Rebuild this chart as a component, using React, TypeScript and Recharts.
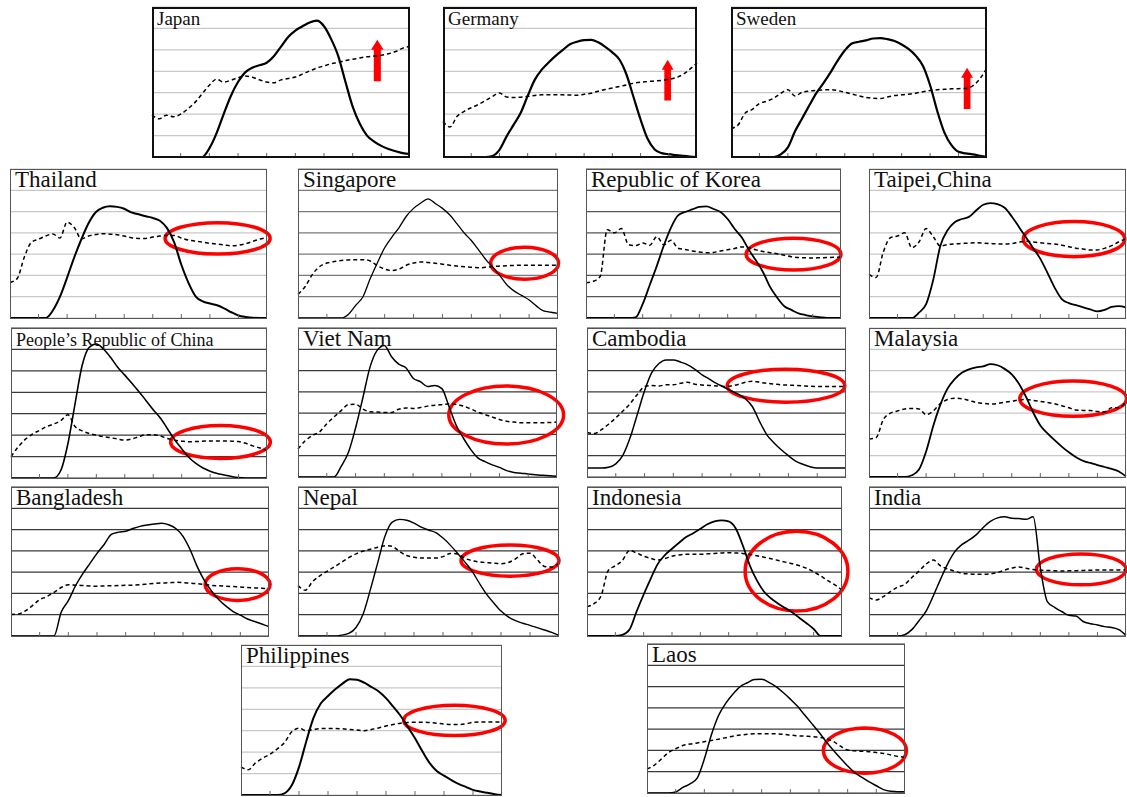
import React from 'react';
import { LineChart, Line, XAxis, YAxis, CartesianGrid, ReferenceArea } from 'recharts';

// hour index along the x axis (nine intervals, sampled every quarter)
const HOURS = [
  0, 0.25, 0.5, 0.75, 1, 1.25, 1.5, 1.75, 2, 2.25, 2.5, 2.75, 3, 3.25, 3.5, 3.75, 4, 4.25, 4.5,
  4.75, 5, 5.25, 5.5, 5.75, 6, 6.25, 6.5, 6.75, 7, 7.25, 7.5, 7.75, 8, 8.25, 8.5, 8.75, 9,
];
const X_TICKS = [1, 2, 3, 4, 5, 6, 7, 8];
const GRID_LEVELS = [1, 2, 3, 4, 5, 6];

const JAPAN_SOLID = [0, 0, 0, 0, 0, 0, 0, 0, 0.4, 1.1, 2.0, 2.85, 3.5, 3.95, 4.17, 4.28, 4.4, 4.7, 5.15, 5.6, 5.9, 6.1, 6.28, 6.36, 6.1, 5.5, 4.7, 3.5, 2.35, 1.55, 1.0, 0.72, 0.52, 0.37, 0.27, 0.18, 0.14];
const JAPAN_DASHED = [1.97, 1.78, 1.95, 1.88, 2.0, 2.25, 2.55, 2.95, 3.35, 3.63, 3.5, 3.58, 3.7, 3.78, 3.72, 3.6, 3.5, 3.46, 3.6, 3.66, 3.73, 3.87, 4.02, 4.15, 4.25, 4.35, 4.41, 4.5, 4.56, 4.62, 4.68, 4.71, 4.75, 4.82, 4.92, 5.08, 5.16];

const GERMANY_SOLID = [0, 0, 0, 0, 0, 0, 0, 0.05, 0.33, 0.95, 1.5, 2.05, 2.85, 3.6, 4.08, 4.42, 4.73, 5.0, 5.26, 5.38, 5.45, 5.47, 5.35, 5.14, 4.88, 4.55, 3.85, 2.8, 1.75, 0.85, 0.35, 0.18, 0.13, 0.09, 0.05, 0.02, 0];
const GERMANY_DASHED = [1.66, 1.4, 1.9, 2.13, 2.3, 2.45, 2.63, 2.82, 2.99, 2.8, 2.78, 2.79, 2.83, 2.87, 2.9, 2.91, 2.91, 2.9, 2.89, 2.88, 2.93, 2.98, 3.07, 3.15, 3.22, 3.29, 3.36, 3.44, 3.49, 3.52, 3.55, 3.57, 3.62, 3.7, 3.85, 4.1, 4.39];

const SWEDEN_SOLID = [0, 0, 0, 0, 0, 0, 0, 0.12, 0.45, 1.2, 1.8, 2.4, 2.98, 3.45, 3.95, 4.5, 4.97, 5.3, 5.38, 5.44, 5.53, 5.55, 5.5, 5.41, 5.25, 5.03, 4.72, 4.25, 3.35, 2.15, 1.15, 0.55, 0.24, 0.17, 0.12, 0.06, 0];
const SWEDEN_DASHED = [1.33, 1.5, 2.05, 2.22, 2.5, 2.6, 2.74, 2.97, 3.14, 2.85, 3.02, 3.08, 3.11, 3.13, 3.14, 3.1, 3.02, 2.94, 2.85, 2.78, 2.74, 2.73, 2.8, 2.87, 2.9, 2.93, 2.98, 3.05, 3.1, 3.14, 3.16, 3.18, 3.19, 3.2, 3.32, 3.65, 4.16];

const THAILAND_SOLID = [0, 0, 0, 0, 0, 0, 0.35, 1.0, 1.9, 2.85, 3.7, 4.45, 4.97, 5.18, 5.25, 5.22, 5.13, 4.96, 4.87, 4.78, 4.7, 4.57, 4.22, 3.55, 2.5, 1.65, 1.02, 0.78, 0.68, 0.6, 0.45, 0.27, 0.12, 0.05, 0.01, 0, 0];
const THAILAND_DASHED = [1.67, 1.85, 2.85, 3.56, 3.7, 3.85, 3.95, 3.76, 4.5, 4.25, 3.72, 3.85, 3.92, 3.96, 3.94, 3.91, 3.85, 3.77, 3.74, 3.74, 3.8, 3.85, 3.88, 3.88, 3.76, 3.66, 3.61, 3.56, 3.51, 3.47, 3.43, 3.39, 3.42, 3.49, 3.6, 3.71, 3.78];

const SINGAPORE_SOLID = [0, 0, 0, 0, 0, 0, 0, 0.18, 0.6, 1.0, 1.85, 2.6, 3.3, 3.8, 4.25, 4.78, 5.15, 5.4, 5.6, 5.38, 5.15, 4.85, 4.43, 4.0, 3.64, 3.2, 2.75, 2.38, 1.97, 1.53, 1.25, 1.05, 0.85, 0.57, 0.33, 0.27, 0.22];
const SINGAPORE_DASHED = [1.12, 1.48, 2.05, 2.42, 2.58, 2.65, 2.7, 2.73, 2.74, 2.74, 2.68, 2.45, 2.3, 2.23, 2.3, 2.48, 2.58, 2.63, 2.61, 2.57, 2.53, 2.48, 2.44, 2.41, 2.38, 2.36, 2.38, 2.42, 2.44, 2.46, 2.47, 2.48, 2.48, 2.48, 2.48, 2.48, 2.48];

const KOREA_SOLID = [0, 0, 0, 0, 0, 0, 0, 0.03, 0.65, 1.55, 2.45, 3.42, 4.25, 4.82, 4.98, 5.1, 5.22, 5.24, 5.12, 4.98, 4.65, 4.18, 3.78, 3.2, 2.7, 2.15, 1.45, 0.95, 0.55, 0.38, 0.22, 0.14, 0.08, 0.04, 0, 0, 0];
const KOREA_DASHED = [1.66, 1.72, 1.95, 4.15, 4.0, 4.2, 3.45, 3.4, 3.52, 3.42, 3.82, 3.44, 3.65, 3.28, 3.22, 3.15, 3.1, 3.06, 3.08, 3.15, 3.21, 3.27, 3.34, 3.3, 3.2, 3.12, 3.07, 3.02, 2.95, 2.88, 2.84, 2.83, 2.82, 2.83, 2.84, 2.85, 2.85];

const TAIPEI_SOLID = [0, 0, 0, 0, 0, 0, 0, 0.25, 0.65, 1.8, 3.4, 4.12, 4.5, 4.65, 4.75, 5.05, 5.32, 5.4, 5.35, 5.18, 4.77, 4.28, 3.78, 3.28, 2.78, 2.12, 1.43, 0.89, 0.7, 0.6, 0.5, 0.4, 0.31, 0.38, 0.52, 0.56, 0.5];
const TAIPEI_DASHED = [2.05, 1.9, 3.1, 3.77, 3.85, 4.0, 3.3, 3.57, 4.2, 3.82, 3.38, 3.45, 3.48, 3.5, 3.52, 3.53, 3.52, 3.5, 3.48, 3.48, 3.5, 3.56, 3.61, 3.57, 3.53, 3.5, 3.48, 3.42, 3.35, 3.28, 3.24, 3.19, 3.2, 3.27, 3.4, 3.58, 3.73];

const CHINA_SOLID = [0, 0, 0, 0, 0, 0, 0, 0.35, 1.6, 3.45, 5.25, 6.1, 6.25, 6.02, 5.63, 5.17, 4.8, 4.42, 4.03, 3.61, 3.19, 2.8, 2.3, 1.79, 1.37, 0.97, 0.68, 0.47, 0.32, 0.21, 0.14, 0.07, 0.02, 0, 0, 0, 0];
const CHINA_DASHED = [0.99, 1.45, 1.8, 2.05, 2.22, 2.4, 2.52, 2.68, 2.95, 2.4, 2.2, 2.08, 2.0, 1.93, 1.88, 1.82, 1.77, 1.82, 1.93, 2.02, 2.02, 1.96, 1.84, 1.76, 1.72, 1.69, 1.7, 1.72, 1.73, 1.73, 1.73, 1.72, 1.7, 1.62, 1.5, 1.4, 1.29];

const VIETNAM_SOLID = [0, 0, 0, 0, 0, 0, 0.5, 1.15, 2.3, 3.7, 5.15, 5.95, 6.18, 5.65, 5.3, 5.13, 4.64, 4.48, 4.25, 4.3, 4.15, 3.3, 2.42, 1.82, 1.3, 0.9, 0.72, 0.57, 0.45, 0.3, 0.21, 0.18, 0.14, 0.11, 0.08, 0.06, 0.03];
const VIETNAM_DASHED = [1.31, 1.7, 1.95, 2.12, 2.5, 2.82, 3.12, 3.4, 3.42, 3.2, 3.06, 3.05, 3.03, 3.03, 3.18, 3.24, 3.22, 3.26, 3.33, 3.37, 3.4, 3.43, 3.41, 3.33, 3.2, 3.05, 2.93, 2.82, 2.7, 2.62, 2.58, 2.55, 2.55, 2.55, 2.55, 2.56, 2.58];

const CAMBODIA_SOLID = [0.42, 0.42, 0.42, 0.46, 0.62, 1.03, 1.85, 2.95, 4.05, 4.9, 5.33, 5.5, 5.5, 5.4, 5.27, 5.06, 4.8, 4.6, 4.4, 4.23, 4.05, 3.89, 3.68, 3.3, 2.6, 1.98, 1.6, 1.28, 1.0, 0.75, 0.6, 0.48, 0.42, 0.42, 0.42, 0.42, 0.42];
const CAMBODIA_DASHED = [2.09, 2.04, 2.22, 2.48, 2.78, 3.1, 3.45, 3.88, 4.25, 4.3, 4.28, 4.33, 4.33, 4.4, 4.45, 4.36, 4.32, 4.3, 4.28, 4.25, 4.28, 4.35, 4.45, 4.5, 4.45, 4.4, 4.37, 4.33, 4.32, 4.3, 4.28, 4.26, 4.25, 4.25, 4.25, 4.25, 4.25];

const MALAYSIA_SOLID = [0, 0, 0, 0, 0, 0, 0.08, 0.35, 1.2, 2.4, 3.4, 4.15, 4.6, 4.9, 5.06, 5.15, 5.2, 5.3, 5.25, 5.08, 4.82, 4.38, 3.76, 3.03, 2.42, 2.05, 1.73, 1.43, 1.16, 0.93, 0.76, 0.66, 0.56, 0.47, 0.38, 0.26, 0.03];
const MALAYSIA_DASHED = [1.79, 1.85, 2.7, 3.0, 3.1, 3.2, 3.22, 3.2, 2.93, 3.1, 3.45, 3.64, 3.7, 3.68, 3.6, 3.5, 3.46, 3.43, 3.45, 3.51, 3.56, 3.62, 3.64, 3.6, 3.55, 3.5, 3.44, 3.35, 3.25, 3.15, 3.13, 3.12, 3.08, 3.05, 3.25, 3.25, 3.55];

const BANGLADESH_SOLID = [0, 0, 0, 0, 0, 0, 0, 1.12, 1.66, 2.36, 2.92, 3.4, 3.88, 4.3, 4.77, 4.88, 4.92, 5.05, 5.15, 5.21, 5.26, 5.3, 5.23, 5.05, 4.68, 4.05, 3.25, 2.6, 2.1, 1.7, 1.4, 1.15, 0.98, 0.8, 0.68, 0.56, 0.44];
const BANGLADESH_DASHED = [1.01, 1.03, 1.18, 1.43, 1.71, 1.85, 2.05, 2.28, 2.41, 2.39, 2.37, 2.35, 2.34, 2.35, 2.36, 2.37, 2.38, 2.39, 2.41, 2.44, 2.47, 2.49, 2.5, 2.52, 2.51, 2.48, 2.46, 2.42, 2.38, 2.36, 2.34, 2.32, 2.3, 2.28, 2.26, 2.24, 2.23];

const NEPAL_SOLID = [0, 0, 0, 0, 0, 0, 0.04, 0.12, 0.4, 1.05, 2.2, 3.45, 4.7, 5.35, 5.48, 5.44, 5.3, 5.12, 4.98, 4.86, 4.6, 4.27, 3.89, 3.48, 3.05, 2.49, 1.97, 1.55, 1.17, 0.9, 0.72, 0.6, 0.5, 0.39, 0.28, 0.17, 0.03];
const NEPAL_DASHED = [2.37, 2.15, 2.55, 2.82, 3.04, 3.25, 3.46, 3.68, 3.86, 3.99, 4.08, 4.17, 4.24, 4.21, 3.97, 3.78, 3.7, 3.66, 3.66, 3.66, 3.73, 3.88, 3.85, 3.65, 3.54, 3.48, 3.45, 3.42, 3.4, 3.45, 3.62, 3.86, 3.89, 3.58, 3.27, 3.24, 3.43];

const INDONESIA_SOLID = [0, 0, 0, 0, 0, 0.05, 0.3, 1.15, 1.95, 2.7, 3.39, 3.8, 4.1, 4.38, 4.65, 4.83, 5.04, 5.25, 5.38, 5.43, 5.38, 5.05, 4.25, 3.3, 2.6, 2.08, 1.76, 1.52, 1.31, 1.1, 0.85, 0.6, 0.33, 0, 0, 0, 0];
const INDONESIA_DASHED = [1.38, 1.52, 1.9, 3.08, 3.3, 3.55, 4.02, 3.9, 3.75, 3.65, 3.57, 3.64, 3.75, 3.81, 3.84, 3.84, 3.84, 3.86, 3.88, 3.9, 3.91, 3.9, 3.88, 3.83, 3.77, 3.7, 3.63, 3.55, 3.47, 3.39, 3.3, 3.18, 3.02, 2.82, 2.6, 2.4, 2.16];

const INDIA_SOLID = [0, 0, 0, 0, 0, 0.06, 0.3, 0.72, 1.17, 1.88, 2.65, 3.38, 3.95, 4.29, 4.5, 4.75, 5.1, 5.38, 5.55, 5.6, 5.53, 5.52, 5.48, 5.6, 3.2, 1.6, 1.35, 1.15, 0.97, 0.94, 0.68, 0.58, 0.52, 0.44, 0.4, 0.3, 0.03];
const INDIA_DASHED = [1.8, 1.69, 1.85, 2.08, 2.3, 2.42, 2.75, 3.05, 3.38, 3.57, 3.3, 3.15, 3.05, 2.95, 2.92, 2.9, 2.9, 2.92, 2.98, 3.1, 3.19, 3.24, 3.18, 3.12, 3.09, 3.08, 3.06, 3.05, 3.06, 3.07, 3.08, 3.09, 3.1, 3.1, 3.1, 3.1, 3.1];

const PHILIPPINES_SOLID = [0, 0, 0, 0, 0, 0, 0.08, 0.45, 1.3, 2.5, 3.6, 4.27, 4.62, 4.93, 5.2, 5.4, 5.38, 5.24, 5.04, 4.83, 4.52, 4.12, 3.7, 3.18, 2.65, 2.05, 1.5, 1.12, 0.9, 0.7, 0.52, 0.38, 0.24, 0.16, 0.1, 0.04, 0];
const PHILIPPINES_DASHED = [1.31, 1.18, 1.5, 1.72, 1.9, 2.15, 2.45, 2.95, 3.12, 3.0, 3.06, 3.1, 3.1, 3.1, 3.09, 3.06, 3.03, 3.0, 3.06, 3.13, 3.22, 3.29, 3.35, 3.38, 3.4, 3.4, 3.38, 3.35, 3.31, 3.29, 3.29, 3.32, 3.39, 3.41, 3.41, 3.41, 3.41];

const LAOS_SOLID = [0, 0, 0, 0, 0.05, 0.26, 0.43, 0.7, 1.6, 2.75, 3.65, 4.22, 4.65, 5.0, 5.18, 5.33, 5.34, 5.2, 5.0, 4.72, 4.41, 4.07, 3.66, 3.26, 2.85, 2.41, 2.01, 1.63, 1.27, 0.95, 0.73, 0.52, 0.34, 0.16, 0.08, 0.06, 0.06];
const LAOS_DASHED = [1.13, 1.3, 1.6, 1.9, 2.08, 2.23, 2.3, 2.35, 2.41, 2.47, 2.53, 2.6, 2.67, 2.72, 2.76, 2.78, 2.78, 2.78, 2.78, 2.76, 2.72, 2.69, 2.67, 2.65, 2.62, 2.55, 2.42, 2.2, 2.02, 1.98, 1.96, 1.94, 1.9, 1.86, 1.79, 1.72, 1.68];

type Box = { x1: number; x2: number; y1: number; y2: number };

type Panel = {
  name: string;
  solid: number[];
  dashed: number[];
  left: number;
  top: number;
  width: number;
  height: number;
  titleSize: number;
  grid: string;
  frame: string;
  frameWidth: number;
  solidWidth: number;
  ring?: Box;
  arrow?: Box;
};

const LIGHT = '#c8c8c8';
const DARK = '#3a3a3a';

const PANELS: Panel[] = [
  { name: 'Japan', solid: JAPAN_SOLID, dashed: JAPAN_DASHED, left: 152, top: 7, width: 258, height: 151, titleSize: 19, grid: LIGHT, frame: '#111', frameWidth: 2, solidWidth: 2.2, arrow: { x1: 7.64, x2: 8.08, y1: 3.53, y2: 5.47 } },
  { name: 'Germany', solid: GERMANY_SOLID, dashed: GERMANY_DASHED, left: 443, top: 7, width: 254, height: 151, titleSize: 19, grid: LIGHT, frame: '#111', frameWidth: 2, solidWidth: 2.2, arrow: { x1: 7.75, x2: 8.17, y1: 2.64, y2: 4.54 } },
  { name: 'Sweden', solid: SWEDEN_SOLID, dashed: SWEDEN_DASHED, left: 731, top: 7, width: 256, height: 151, titleSize: 19, grid: LIGHT, frame: '#111', frameWidth: 2, solidWidth: 2.2, arrow: { x1: 8.09, x2: 8.51, y1: 2.24, y2: 4.16 } },
  { name: 'Thailand', solid: THAILAND_SOLID, dashed: THAILAND_DASHED, left: 10, top: 169, width: 257, height: 150, titleSize: 23, grid: LIGHT, frame: '#555', frameWidth: 1.5, solidWidth: 2, ring: { x1: 5.37, x2: 9.17, y1: 2.92, y2: 4.56 } },
  { name: 'Singapore', solid: SINGAPORE_SOLID, dashed: SINGAPORE_DASHED, left: 298, top: 169, width: 260, height: 150, titleSize: 23, grid: '#7a7a7a', frame: '#555', frameWidth: 1.5, solidWidth: 1.3, ring: { x1: 6.61, x2: 9.08, y1: 1.74, y2: 3.41 } },
  { name: 'Republic of Korea', solid: KOREA_SOLID, dashed: KOREA_DASHED, left: 586, top: 169, width: 255, height: 150, titleSize: 23, grid: '#555', frame: '#555', frameWidth: 1.5, solidWidth: 1.8, ring: { x1: 5.59, x2: 9.06, y1: 2.17, y2: 3.83 } },
  { name: 'Taipei,China', solid: TAIPEI_SOLID, dashed: TAIPEI_DASHED, left: 869, top: 169, width: 257, height: 150, titleSize: 23, grid: LIGHT, frame: '#555', frameWidth: 1.5, solidWidth: 1.8, ring: { x1: 5.34, x2: 9.02, y1: 2.8, y2: 4.62 } },
  { name: 'People\u2019s Republic of China', solid: CHINA_SOLID, dashed: CHINA_DASHED, left: 11, top: 328, width: 256, height: 151, titleSize: 18, grid: DARK, frame: '#555', frameWidth: 1.5, solidWidth: 1.6, ring: { x1: 5.55, x2: 9.18, y1: 0.83, y2: 2.53 } },
  { name: 'Viet Nam', solid: VIETNAM_SOLID, dashed: VIETNAM_DASHED, left: 298, top: 328, width: 259, height: 150, titleSize: 23, grid: DARK, frame: '#555', frameWidth: 1.5, solidWidth: 1.5, ring: { x1: 5.18, x2: 9.29, y1: 1.47, y2: 4.36 } },
  { name: 'Cambodia', solid: CAMBODIA_SOLID, dashed: CAMBODIA_DASHED, left: 587, top: 328, width: 259, height: 150, titleSize: 23, grid: DARK, frame: '#555', frameWidth: 1.5, solidWidth: 1.5, ring: { x1: 4.81, x2: 9.02, y1: 3.43, y2: 5.15 } },
  { name: 'Malaysia', solid: MALAYSIA_SOLID, dashed: MALAYSIA_DASHED, left: 869, top: 328, width: 257, height: 150, titleSize: 23, grid: LIGHT, frame: '#555', frameWidth: 1.5, solidWidth: 1.8, ring: { x1: 5.22, x2: 9.08, y1: 2.77, y2: 4.59 } },
  { name: 'Bangladesh', solid: BANGLADESH_SOLID, dashed: BANGLADESH_DASHED, left: 11, top: 487, width: 258, height: 150, titleSize: 23, grid: DARK, frame: '#555', frameWidth: 1.5, solidWidth: 1.5, ring: { x1: 6.71, x2: 9.1, y1: 1.59, y2: 3.24 } },
  { name: 'Nepal', solid: NEPAL_SOLID, dashed: NEPAL_DASHED, left: 298, top: 487, width: 261, height: 150, titleSize: 23, grid: DARK, frame: '#555', frameWidth: 1.5, solidWidth: 1.4, ring: { x1: 5.56, x2: 9.06, y1: 2.73, y2: 4.36 } },
  { name: 'Indonesia', solid: INDONESIA_SOLID, dashed: INDONESIA_DASHED, left: 587, top: 487, width: 255, height: 150, titleSize: 23, grid: DARK, frame: '#555', frameWidth: 1.5, solidWidth: 1.8, ring: { x1: 5.52, x2: 9.27, y1: 1.09, y2: 5.0 } },
  { name: 'India', solid: INDIA_SOLID, dashed: INDIA_DASHED, left: 869, top: 487, width: 257, height: 150, titleSize: 23, grid: DARK, frame: '#555', frameWidth: 1.5, solidWidth: 1.5, ring: { x1: 5.8, x2: 9.06, y1: 2.32, y2: 3.94 } },
  { name: 'Philippines', solid: PHILIPPINES_SOLID, dashed: PHILIPPINES_DASHED, left: 241, top: 645, width: 261, height: 151, titleSize: 23, grid: LIGHT, frame: '#555', frameWidth: 1.5, solidWidth: 2, ring: { x1: 5.55, x2: 9.17, y1: 2.69, y2: 4.27 } },
  { name: 'Laos', solid: LAOS_SOLID, dashed: LAOS_DASHED, left: 647, top: 644, width: 258, height: 150, titleSize: 23, grid: DARK, frame: '#555', frameWidth: 1.5, solidWidth: 1.5, ring: { x1: 6.09, x2: 9.11, y1: 0.85, y2: 3.14 } },
];

const RED = '#ff0000';

// small upward tick drawn from the bottom edge of the plot
const TickMark = (props: any) => (
  <line x1={props.x} x2={props.x} y1={props.y} y2={props.y - 4} stroke="#666" strokeWidth={1} />
);

const Ring = (props: any) => {
  const { x, y, width, height } = props;
  return (
    <ellipse
      cx={x + width / 2}
      cy={y + height / 2}
      rx={Math.abs(width) / 2 - 1.75}
      ry={Math.abs(height) / 2 - 1.75}
      fill="none"
      stroke={RED}
      strokeWidth={3.5}
    />
  );
};

const UpArrow = (props: any) => {
  const { x, y, width, height } = props;
  const cx = x + width / 2;
  const head = 10;
  const half = (width * 0.56) / 2;
  const pts = [
    [cx, y],
    [x + width, y + head],
    [cx + half, y + head],
    [cx + half, y + height],
    [cx - half, y + height],
    [cx - half, y + head],
    [x, y + head],
  ]
    .map((p) => p.join(','))
    .join(' ');
  return <polygon points={pts} fill={RED} />;
};

function PanelChart({ p }: { p: Panel }) {
  const rows = HOURS.map((h, i) => ({ h, solid: p.solid[i], dashed: p.dashed[i] }));
  return (
    <div style={{ position: 'absolute', left: p.left, top: p.top, width: p.width, height: p.height }}>
      <LineChart width={p.width} height={p.height} data={rows} margin={{ top: 0, right: 0, bottom: 0, left: 0 }}>
        <CartesianGrid vertical={false} stroke={p.grid} strokeWidth={1.2} />
        <XAxis
          dataKey="h"
          type="number"
          domain={[0, 9]}
          ticks={X_TICKS}
          interval={0}
          height={1}
          axisLine={false}
          tickLine={false}
          tickSize={0}
          tickMargin={0}
          tick={TickMark}
        />
        <YAxis hide type="number" domain={[0, 7]} ticks={GRID_LEVELS} interval={0} />
        <Line
          dataKey="dashed"
          type="monotone"
          stroke="#000"
          strokeWidth={1.5}
          strokeDasharray="4 3"
          dot={false}
          isAnimationActive={false}
        />
        <Line
          dataKey="solid"
          type="monotone"
          stroke="#000"
          strokeWidth={p.solidWidth}
          dot={false}
          isAnimationActive={false}
        />
        {p.ring && (
          <ReferenceArea {...p.ring} ifOverflow="visible" shape={Ring} />
        )}
        {p.arrow && (
          <ReferenceArea {...p.arrow} ifOverflow="visible" shape={UpArrow} />
        )}
      </LineChart>
      <svg
        width={p.width}
        height={p.height}
        style={{ position: 'absolute', left: 0, top: 0, pointerEvents: 'none', overflow: 'visible' }}
      >
        <text
          x={5}
          y={18}
          fontFamily='"Liberation Serif", "Times New Roman", serif'
          fontSize={p.titleSize}
          fill="#111"
        >
          {p.name}
        </text>
      </svg>
      <div
        style={{
          position: 'absolute',
          left: 0,
          top: 0,
          width: p.width,
          height: p.height,
          boxSizing: 'border-box',
          border: `${p.frameWidth}px solid ${p.frame}`,
          pointerEvents: 'none',
        }}
      />
    </div>
  );
}

export default function App() {
  return (
    <div style={{ position: 'absolute', left: 0, top: 0, width: 1127, height: 797, background: '#fff', overflow: 'hidden' }}>
      <style>{'.recharts-surface{overflow:visible}.recharts-wrapper{overflow:visible}'}</style>
      {PANELS.map((p) => (
        <PanelChart key={p.name} p={p} />
      ))}
    </div>
  );
}
